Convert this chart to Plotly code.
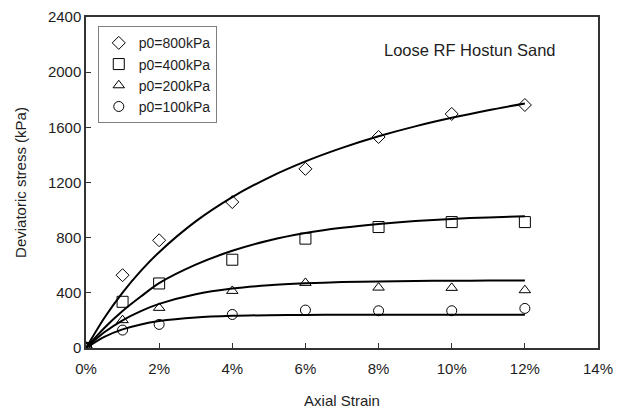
import plotly.graph_objects as go

# Axial strain (%) at which each test was sampled
strain_pts = [0, 1, 2, 4, 6, 8, 10, 12]

# Measured deviatoric stress (kPa) for each confining pressure
q_800 = [0, 528, 781, 1058, 1299, 1530, 1697, 1762]
q_400 = [0, 335, 468, 640, 793, 877, 913, 913]
q_200 = [0, 202, 291, 414, 472, 438, 436, 419]
q_100 = [0, 130, 171, 243, 275, 270, 270, 287]

# Model curves (kPa) tabulated along axial strain (%)
strain_fit = [0, 0.5, 1, 1.5, 2, 3, 4, 5, 6, 7, 8, 9, 10, 11, 12]
fit_800 = [0, 218, 402, 559, 695, 918, 1094, 1236, 1353, 1451, 1535, 1607, 1669, 1724, 1773]
fit_400 = [0, 145, 268, 373, 470, 604, 705, 780, 834, 872, 900, 921, 936, 947, 956]
fit_200 = [0, 114, 201, 268, 320, 390, 431, 455, 469, 478, 483, 486, 488, 489, 490]
fit_100 = [0, 81, 135, 171, 195, 221, 233, 238, 240, 241, 241, 241, 241, 241, 241]

series_names = ["p0=800kPa", "p0=400kPa", "p0=200kPa", "p0=100kPa"]
symbols = ["diamond-open", "square-open", "triangle-up-open", "circle-open"]
marker_sizes = [10, 11, 10, 10]

x_ticks = [0, 2, 4, 6, 8, 10, 12, 14]
y_ticks = [0, 400, 800, 1200, 1600, 2000, 2400]

FONT = "Liberation Sans, Arial, sans-serif"
INK = "#1e1e1e"

fig = go.Figure()

for fit in [fit_800, fit_400, fit_200, fit_100]:
    fig.add_trace(go.Scatter(
        x=strain_fit, y=fit, mode="lines",
        line=dict(color="black", width=2, shape="spline", smoothing=0.8),
        showlegend=False, hoverinfo="skip",
    ))

for name, vals, sym, sz in zip(series_names, [q_800, q_400, q_200, q_100], symbols, marker_sizes):
    fig.add_trace(go.Scatter(
        x=strain_pts, y=vals, mode="markers", name=name,
        marker=dict(symbol=sym, size=sz, color="black",
                    line=dict(color="black", width=1)),
    ))

axis_common = dict(
    showline=True, linecolor="#333333", linewidth=1.5, mirror=True,
    ticks="inside", ticklen=5, tickwidth=1, tickcolor="#333333",
    showgrid=False, zeroline=False, automargin=False,
    tickfont=dict(family=FONT, size=15, color=INK),
)

fig.update_xaxes(
    range=[0, 14], tickvals=x_ticks, ticktext=[f"{t}%" for t in x_ticks],
    ticklabelstandoff=6,
    title=dict(text="Axial Strain", font=dict(family=FONT, size=15, color=INK), standoff=20),
    **axis_common,
)
fig.update_yaxes(
    range=[0, 2400], tickvals=y_ticks,
    title=dict(text="Deviatoric stress (kPa)", font=dict(family=FONT, size=15, color=INK), standoff=18),
    **axis_common,
)

fig.add_annotation(
    x=0.922, y=0.900, xref="paper", yref="paper", xanchor="right", yanchor="middle",
    text="Loose RF Hostun Sand", showarrow=False,
    font=dict(family=FONT, size=16.5, color=INK),
)

fig.update_layout(
    width=621, height=411,
    margin=dict(l=86, r=23, t=17, b=63),
    paper_bgcolor="white", plot_bgcolor="white",
    showlegend=True,
    legend=dict(
        x=0.023, y=0.972, xanchor="left", yanchor="top",
        bgcolor="white", bordercolor="#7f7f7f", borderwidth=1,
        font=dict(family=FONT, size=14, color=INK),
        itemwidth=30, tracegroupgap=0,
    ),
    font=dict(family=FONT, color=INK),
)

fig.write_html("out.html")
